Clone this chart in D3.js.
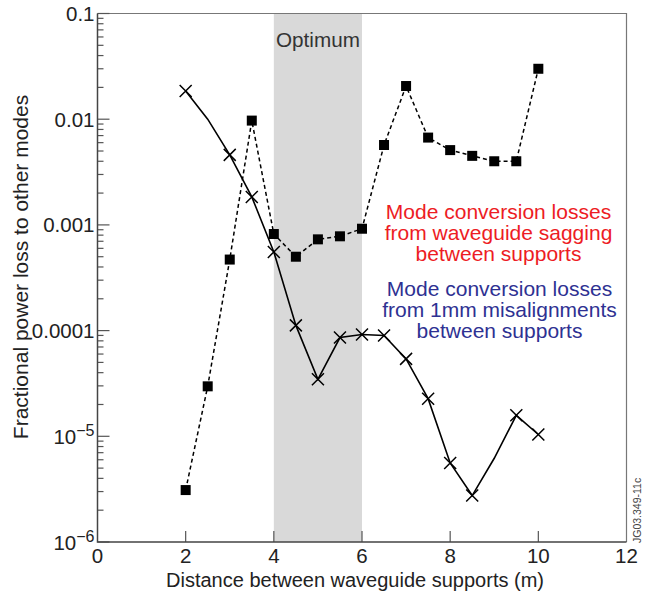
<!DOCTYPE html>
<html><head><meta charset="utf-8">
<script src="https://cdn.jsdelivr.net/npm/d3@7"></script>
<style>body{margin:0;background:#fff;}svg{display:block;font-family:"Liberation Sans",Arial,sans-serif;}</style>
</head><body>
<svg id="c" width="650" height="599"></svg>
<script>
// Data
const saggingX = [2, 2.5, 3, 3.5, 4, 4.5, 5, 5.5, 6, 6.5, 7, 7.5, 8, 8.5, 9, 9.5, 10];
const saggingY = [3.1e-6, 2.97e-5, 4.7e-4, 9.7e-3, 8.2e-4, 5.0e-4, 7.3e-4, 7.8e-4, 9.2e-4, 5.7e-3, 0.0206, 6.7e-3, 5.1e-3, 4.5e-3, 4.0e-3, 4.0e-3, 0.030];
// misalignment line (markers shown only where marked)
const misX = [2, 2.5, 3, 3.5, 4, 4.5, 5, 5.5, 6, 6.5, 7, 7.5, 8, 8.5, 9, 9.5, 10];
const misY = [0.0185, 0.0100, 4.6e-3, 1.84e-3, 5.55e-4, 1.12e-4, 3.46e-5, 8.6e-5, 9.2e-5, 9.0e-5, 5.4e-5, 2.27e-5, 5.6e-6, 2.75e-6, 6.2e-6, 1.58e-5, 1.04e-5];
const misMarked = [true, false, true, true, true, true, true, true, true, true, true, true, true, true, false, true, true];
const xTicks = [0, 2, 4, 6, 8, 10, 12];
const yMajor = [0.1, 0.01, 0.001, 0.0001, 1e-5, 1e-6];
const yLabels = ["0.1", "0.01", "0.001", "0.0001", "10|−5", "10|−6"];
const optimumBand = [4, 6];

const svg = d3.select("#c");
const L = 97.5, R = 626.5, T = 13.5, B = 542;
const x = d3.scaleLinear().domain([0, 12]).range([L, R]);
const y = d3.scaleLog().domain([1e-6, 0.1]).range([B, T]);

// band
svg.append("rect").attr("x", x(optimumBand[0])).attr("y", T)
  .attr("width", x(optimumBand[1]) - x(optimumBand[0])).attr("height", B - T)
  .attr("fill", "#d9d9d9");
svg.append("text").attr("x", (x(optimumBand[0]) + x(optimumBand[1])) / 2).attr("y", 47)
  .attr("text-anchor", "middle").attr("font-size", 20.7).attr("fill", "#333").text("Optimum");

// frame top/right
svg.append("path").attr("d", `M${L},${T}H${R}V${B}`).attr("fill", "none").attr("stroke", "#777").attr("stroke-width", 1.2);

// y ticks
const minor = [];
for (let e = -6; e < -1; e++) for (let m = 2; m <= 9; m++) minor.push(m * Math.pow(10, e));
svg.append("g").selectAll("line").data(minor).join("line")
  .attr("x1", L).attr("x2", L + 6).attr("y1", d => y(d)).attr("y2", d => y(d))
  .attr("stroke", "#555").attr("stroke-width", 1.2);
svg.append("g").selectAll("line").data(yMajor).join("line")
  .attr("x1", L).attr("x2", L + 12).attr("y1", d => y(d)).attr("y2", d => y(d))
  .attr("stroke", "#555").attr("stroke-width", 1.2);
const yl = svg.append("g").selectAll("text").data(yMajor).join("text")
  .attr("x", L - 3).attr("y", d => y(d) + 7.5).attr("text-anchor", "end")
  .attr("font-size", 20.5).attr("fill", "#222");
yl.each(function(d, i) {
  const parts = yLabels[i].split("|");
  const t = d3.select(this);
  t.append("tspan").text(parts[0]);
  if (parts[1]) t.append("tspan").attr("dy", -8).attr("font-size", 16).text(parts[1]);
});
// x ticks
svg.append("g").selectAll("line").data(xTicks.filter(d => d > 0 && d < 12)).join("line")
  .attr("x1", d => x(d)).attr("x2", d => x(d)).attr("y1", B).attr("y2", B - 11)
  .attr("stroke", "#555").attr("stroke-width", 1.2);
svg.append("g").selectAll("text").data(xTicks).join("text")
  .attr("x", d => x(d)).attr("y", B + 20.5).attr("text-anchor", "middle")
  .attr("font-size", 20.5).attr("fill", "#222").text(d => d);
// axis lines
svg.append("path").attr("d", `M${L},${T}V${B}H${R}`).attr("fill", "none").attr("stroke", "#444").attr("stroke-width", 1.5);

// titles
svg.append("text").attr("x", 355).attr("y", 587).attr("text-anchor", "middle")
  .attr("font-size", 20).attr("fill", "#222").text("Distance between waveguide supports (m)");
svg.append("text").attr("transform", `translate(28,267) rotate(-90)`).attr("text-anchor", "middle")
  .attr("font-size", 21).attr("fill", "#222").text("Fractional power loss to other modes");

// sagging series
const sag = saggingX.map((d, i) => [d, saggingY[i]]);
svg.append("path").datum(sag)
  .attr("d", d3.line().x(d => x(d[0])).y(d => y(d[1])))
  .attr("fill", "none").attr("stroke", "#000").attr("stroke-width", 1.5).attr("stroke-dasharray", "4,3");
svg.append("g").selectAll("rect").data(sag).join("rect")
  .attr("x", d => x(d[0]) - 5).attr("y", d => y(d[1]) - 5).attr("width", 10).attr("height", 10).attr("fill", "#000");

// misalignment series
const mis = misX.map((d, i) => [d, misY[i], misMarked[i]]);
svg.append("path").datum(mis)
  .attr("d", d3.line().x(d => x(d[0])).y(d => y(d[1])))
  .attr("fill", "none").attr("stroke", "#000").attr("stroke-width", 1.6);
const s = 6;
svg.append("g").selectAll("path").data(mis.filter(d => d[2])).join("path")
  .attr("d", d => { const cx = x(d[0]), cy = y(d[1]); return `M${cx - s},${cy - s}L${cx + s},${cy + s}M${cx - s},${cy + s}L${cx + s},${cy - s}`; })
  .attr("stroke", "#000").attr("stroke-width", 1.5).attr("fill", "none");

// annotations
const red = ["Mode conversion losses", "from waveguide sagging", "between supports"];
const blue = ["Mode conversion losses", "from 1mm misalignments", "between supports"];
svg.append("g").selectAll("text").data(red).join("text")
  .attr("x", 498.5).attr("y", (d, i) => 218.5 + i * 21).attr("text-anchor", "middle")
  .attr("font-size", 21).attr("fill", "#ed1c24").text(d => d);
svg.append("g").selectAll("text").data(blue).join("text")
  .attr("x", 499.5).attr("y", (d, i) => 295.5 + i * 21.3).attr("text-anchor", "middle")
  .attr("font-size", 21).attr("fill", "#2e3192").text(d => d);

// id
svg.append("text").attr("transform", "translate(641,543) rotate(-90)").attr("font-size", 10.5)
  .attr("fill", "#444").text("JG03.349-11c");
</script>
</body></html>
